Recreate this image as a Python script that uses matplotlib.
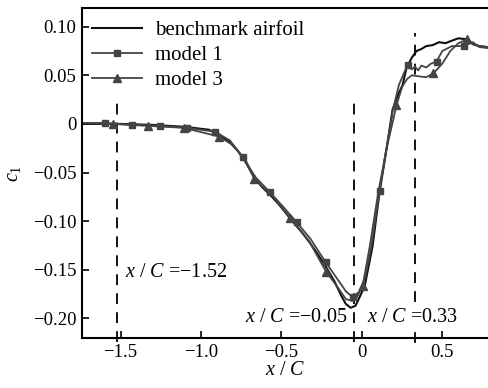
import matplotlib
matplotlib.use("Agg")
import matplotlib.pyplot as plt

plt.rcParams["font.family"] = "Liberation Serif"
plt.rcParams["mathtext.fontset"] = "custom"
plt.rcParams["mathtext.rm"] = "Liberation Serif"
plt.rcParams["mathtext.it"] = "Liberation Serif:italic"

# benchmark airfoil
bench_x = [-1.74, -1.5, -1.3, -1.1, -0.95, -0.88, -0.82, -0.77, -0.72, -0.67, -0.62,
           -0.57, -0.52, -0.47, -0.42, -0.37, -0.32, -0.27, -0.22, -0.17, -0.13, -0.10,
           -0.07, -0.04, -0.014, 0.017, 0.066, 0.11, 0.153, 0.191, 0.225, 0.253, 0.278,
           0.31, 0.34, 0.37, 0.40, 0.44, 0.48, 0.52, 0.55, 0.60, 0.65, 0.69, 0.73, 0.78]
bench_y = [0.0, 0.0, -0.001, -0.003, -0.006, -0.012, -0.019, -0.028, -0.040, -0.055, -0.065,
           -0.073, -0.082, -0.092, -0.102, -0.112, -0.123, -0.135, -0.148, -0.162, -0.176, -0.185,
           -0.189, -0.187, -0.178, -0.167, -0.126, -0.070, -0.026, 0.015, 0.030, 0.040, 0.058,
           0.068, 0.075, 0.077, 0.080, 0.081, 0.084, 0.083, 0.085, 0.088, 0.087, 0.082, 0.080, 0.079]

# model 1
m1_x = [-1.74, -1.598, -1.43, -1.256, -1.088, -0.914, -0.82, -0.741, -0.66, -0.573, -0.49,
        -0.406, -0.32, -0.226, -0.15, -0.10, -0.058, -0.02, 0.02, 0.06, 0.11, 0.15, 0.19,
        0.23, 0.284, 0.31, 0.33, 0.35, 0.37, 0.40, 0.43, 0.464, 0.50, 0.56, 0.632, 0.69,
        0.73, 0.78]
m1_y = [0.001, 0.001, -0.001, -0.002, -0.004, -0.008, -0.017, -0.034, -0.055, -0.070, -0.085,
        -0.101, -0.118, -0.142, -0.160, -0.172, -0.178, -0.173, -0.158, -0.125, -0.069, -0.028,
        0.012, 0.040, 0.061, 0.056, 0.059, 0.055, 0.060, 0.058, 0.062, 0.064, 0.075, 0.080,
        0.080, 0.084, 0.079, 0.078]
m1_marks = [-1.598, -1.43, -1.256, -1.088, -0.914, -0.741, -0.573, -0.406, -0.226, -0.058,
            0.11, 0.284, 0.464, 0.632]

# model 3
m3_x = [-1.74, -1.548, -1.328, -1.108, -0.888, -0.80, -0.72, -0.668, -0.55, -0.448, -0.33,
        -0.222, -0.15, -0.10, -0.06, -0.03, 0.004, 0.05, 0.10, 0.15, 0.215, 0.25, 0.28,
        0.31, 0.35, 0.40, 0.445, 0.50, 0.55, 0.60, 0.656, 0.70, 0.78]
m3_y = [0.001, 0.0, -0.002, -0.004, -0.013, -0.022, -0.038, -0.057, -0.075, -0.097, -0.120,
        -0.152, -0.168, -0.180, -0.182, -0.178, -0.167, -0.125, -0.072, -0.028, 0.019, 0.038,
        0.046, 0.050, 0.049, 0.048, 0.052, 0.062, 0.075, 0.083, 0.087, 0.081, 0.079]
m3_marks = [-1.548, -1.328, -1.108, -0.888, -0.668, -0.448, -0.222, 0.004, 0.215, 0.445, 0.656]

# vertical reference lines: position and top of the dashed line
ref_x = [-1.52, -0.05, 0.33]
ref_top = [0.022, 0.021, 0.093]

x_ticks = [-1.5, -1.0, -0.5, 0, 0.5]
x_ticklabels = ["\u22121.5", "\u22121.0", "\u22120.5", "0", "0.5"]
y_ticks = [0.10, 0.05, 0, -0.05, -0.10, -0.15, -0.20]
y_ticklabels = ["0.10", "0.05", "0", "\u22120.05", "\u22120.10", "\u22120.15", "\u22120.20"]

fig = plt.figure(figsize=(4.88, 3.88), dpi=100)
ax = fig.add_axes([0.168, 0.129, 0.832, 0.850])

dash = (0, (6, 4.5))
for xv, top in zip(ref_x, ref_top):
    if xv > 0:
        # the 0.33 line breaks around its label
        ax.plot([xv, xv], [-0.183, top], color="black", lw=1.3, ls=dash)
        ax.plot([xv, xv], [-0.215, -0.224], color="black", lw=1.3, clip_on=False)
    else:
        ax.plot([xv, xv], [-0.224, top], color="black", lw=1.3, ls=dash, clip_on=False)

ax.plot(bench_x, bench_y, color="#111111", lw=1.5, label="benchmark airfoil")
ax.plot(m1_x, m1_y, color="#444444", lw=1.3, marker="s", ms=4.5,
        markevery=[i for i, v in enumerate(m1_x) if v in m1_marks], label="model 1")
ax.plot(m3_x, m3_y, color="#444444", lw=1.3, marker="^", ms=5.5,
        markevery=[i for i, v in enumerate(m3_x) if v in m3_marks], label="model 3")

fs = 13.5
ax.text(-1.474, -0.153, "$x$ / $C$ =\u22121.52", fontsize=14.5, va="center", ha="left")
ax.text(-0.087, -0.199, "$x$ / $C$ =\u22120.05", fontsize=14.5, va="center", ha="right")
ax.text(0.03, -0.199, "$x$ / $C$ =0.33", fontsize=14.5, va="center", ha="left")

ax.set_xlim(-1.74, 0.784)
ax.set_ylim(-0.22, 0.119)
ax.set_xticks(x_ticks)
ax.set_xticklabels(x_ticklabels)
ax.set_yticks(y_ticks)
ax.set_yticklabels(y_ticklabels)
ax.tick_params(direction="in", length=5, width=1.2, labelsize=fs, pad=4)
ax.spines["right"].set_visible(False)
for s in ["left", "bottom", "top"]:
    ax.spines[s].set_linewidth(1.5)

ax.set_xlabel("$x$ / $C$", fontsize=14.5, labelpad=0)
ax.set_ylabel("$c_1$", fontsize=14.5, labelpad=7)

ax.legend(loc="upper left", bbox_to_anchor=(-0.005, 1.0), frameon=False, fontsize=15,
          handlelength=2.4, labelspacing=0.25, handletextpad=0.6, borderaxespad=0.2)

fig.savefig("out.png", dpi=100)
